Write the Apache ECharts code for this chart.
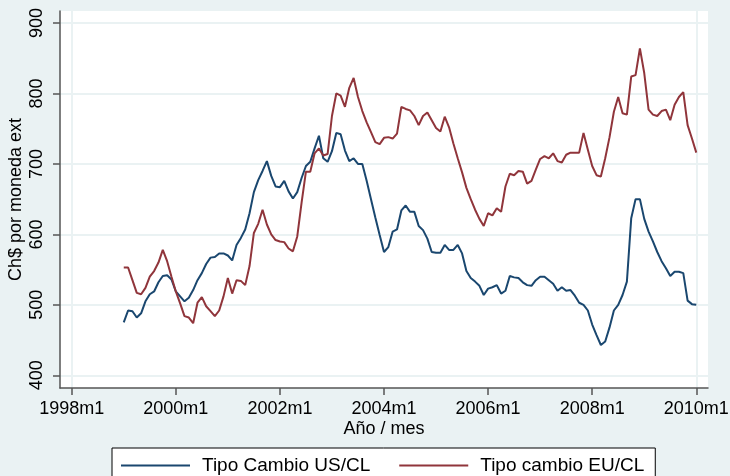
<!DOCTYPE html>
<html>
<head>
<meta charset="utf-8">
<script src="https://cdn.jsdelivr.net/npm/echarts@6/dist/echarts.min.js"></script>
<style>
  html, body { margin: 0; padding: 0; background: #EAF2F3; }
  #myChart { width: 730px; height: 476px; }
</style>
</head>
<body>
<div id="myChart"></div>
<script>
// months counted from 1998m1; the data start at 1999m1
const startMonth = 12;

// Tipo Cambio US/CL, 1999m1 .. 2010m1 (one row per year)
const usCl = [
  475, 492, 491, 482, 488, 505, 515, 519, 532, 541, 542, 536,
  519, 512, 505, 510, 521, 535, 545, 558, 567, 568, 573, 573,
  570, 563, 585, 595, 607, 630, 660, 677, 690, 704, 683, 668,
  667, 676, 661, 651, 660, 680, 697, 703, 722, 740, 708, 703,
  718, 744, 742, 719, 704, 708, 700, 700, 676, 650, 624, 599,
  575, 582, 604, 607, 634, 641, 632, 632, 612, 606, 594, 575,
  574, 574, 585, 578, 578, 585, 573, 548, 538, 533, 527, 514,
  523, 525, 528, 516, 520, 541, 539, 538, 532, 528, 527, 535,
  540, 540, 535, 530, 520, 525, 520, 521, 513, 503, 500, 492,
  472, 457, 443, 448, 468, 492, 500, 514, 533, 623, 650, 650,
  622, 604, 590, 575, 562, 552, 541, 547, 547, 545, 506, 501,
  500
];

// Tipo cambio EU/CL, 1999m1 .. 2010m1
const euCl = [
  553, 553, 535, 517, 515, 524, 540, 548, 560, 578, 562, 540,
  519, 502, 484, 482, 474, 503, 511, 498, 491, 484, 492, 512,
  538, 516, 535, 534, 528, 555, 602, 615, 635, 614, 600, 592,
  590, 589, 580, 576, 597, 645, 689, 689, 715, 722, 712, 714,
  768, 800, 797, 781, 808, 822, 795, 775, 759, 745, 731, 728,
  737, 738, 736, 743, 781, 778, 776, 768, 755, 768, 773, 762,
  751, 746, 767, 752, 729, 708, 688, 666, 650, 635, 622, 612,
  630, 627, 637, 632, 668, 686, 684, 690, 689, 672, 676, 692,
  707, 711, 708, 715, 704, 702, 713, 716, 716, 716, 744, 720,
  697, 684, 682, 708, 738, 774, 795, 772, 770, 824, 826, 864,
  829, 777, 770, 768, 775, 777, 762, 784, 795, 802, 755, 736,
  716
];

const seriesNames = ["Tipo Cambio US/CL", "Tipo cambio EU/CL"];
const xTicks = [0, 24, 48, 72, 96, 120, 144];
const yTicks = [400, 500, 600, 700, 800, 900];

const toPairs = arr => arr.map((v, i) => [startMonth + i, v]);
const monthLabel = v => (1998 + Math.round(v) / 12) + "m1";

const font = "'Liberation Sans', Arial, sans-serif";
const axisColor = "#555";
const gridColor = "#EAF2F3";

const myChart = echarts.init(document.getElementById("myChart"));

const option = {
  animation: false,
  backgroundColor: "#EAF2F3",
  textStyle: { fontFamily: font },
  grid: {
    left: 60,
    right: 22,
    top: 11,
    bottom: 88,
    outerBoundsMode: "none",
    containLabel: false,
    show: true,
    backgroundColor: "#fff",
    borderWidth: 0
  },
  legend: {
    left: 112,
    top: 448,
    padding: [8, 11, 20, 9],
    backgroundColor: "#fff",
    borderColor: "#000",
    borderWidth: 1,
    borderRadius: 0,
    itemWidth: 69,
    itemHeight: 2,
    itemGap: 29,
    icon: "rect",
    textStyle: { fontFamily: font, fontSize: 19, color: "#000", padding: [0, 0, 0, 7] },
    data: seriesNames
  },
  xAxis: {
    type: "value",
    min: -2.7,
    max: 146.7,
    name: "Año / mes",
    nameLocation: "middle",
    nameGap: 32,
    nameMoveOverlap: false,
    nameTextStyle: { fontFamily: font, fontSize: 18, color: "#000" },
    axisLine: { show: true, onZero: false, lineStyle: { color: axisColor, width: 1.5 } },
    axisTick: { show: true, customValues: xTicks, length: 7, lineStyle: { color: axisColor, width: 1.5 } },
    axisLabel: {
      customValues: xTicks,
      formatter: monthLabel,
      margin: 12,
      fontFamily: font,
      fontSize: 18,
      color: "#000"
    },
    splitLine: {
      show: true,
      lineStyle: {
        width: 2,
        color: [gridColor, "rgba(0,0,0,0)", "rgba(0,0,0,0)", "rgba(0,0,0,0)",
                "rgba(0,0,0,0)", "rgba(0,0,0,0)", gridColor]
      }
    }
  },
  yAxis: {
    type: "value",
    min: 382,
    max: 917,
    name: "Ch$ por moneda ext",
    nameLocation: "middle",
    nameGap: 35,
    nameMoveOverlap: false,
    nameTextStyle: { fontFamily: font, fontSize: 18, color: "#000" },
    axisLine: { show: true, onZero: false, lineStyle: { color: axisColor, width: 1.5 } },
    axisTick: { show: true, customValues: yTicks, length: 7, lineStyle: { color: axisColor, width: 1.5 } },
    axisLabel: {
      customValues: yTicks,
      rotate: 90,
      margin: 14,
      fontFamily: font,
      fontSize: 18,
      color: "#000"
    },
    splitLine: { show: true, lineStyle: { color: gridColor, width: 2 } }
  },
  series: [
    {
      name: seriesNames[0],
      type: "line",
      data: toPairs(usCl),
      symbol: "none",
      color: "#1A476F",
      lineStyle: { width: 2, color: "#1A476F" }
    },
    {
      name: seriesNames[1],
      type: "line",
      data: toPairs(euCl),
      symbol: "none",
      color: "#90353B",
      lineStyle: { width: 2, color: "#90353B" }
    }
  ]
};

myChart.setOption(option);
window.addEventListener("resize", function() {
  if (myChart != null && myChart != undefined) {
    myChart.resize();
  }
});
</script>
</body>
</html>
